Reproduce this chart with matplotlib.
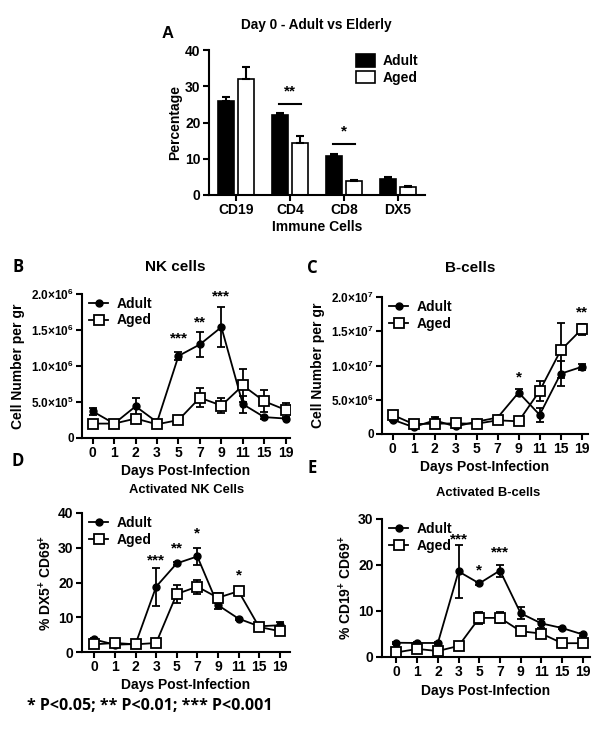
import matplotlib
matplotlib.use("Agg")
import matplotlib.pyplot as plt
from matplotlib.lines import Line2D
import numpy as np

plt.rcParams['font.family'] = ['Liberation Sans', 'DejaVu Sans']
plt.rcParams['font.weight'] = 'bold'
plt.rcParams['mathtext.fontset'] = 'custom'
plt.rcParams['mathtext.rm'] = 'Liberation Sans:bold'
plt.rcParams['mathtext.bf'] = 'Liberation Sans:bold'
plt.rcParams['mathtext.default'] = 'bf'

# ---------------- data ----------------
cells = ["CD19", "CD4", "CD8", "DX5"]
a_adult = [26.0, 22.0, 10.7, 4.5]
a_adult_err = [1.0, 0.6, 0.5, 0.5]
a_aged = [32.0, 14.3, 3.9, 2.2]
a_aged_err = [3.3, 2.0, 0.3, 0.4]

days = ["0", "1", "2", "3", "5", "7", "9", "11", "15", "19"]

nk_adult = [3.7e5, 2.0e5, 4.4e5, 2.2e5, 1.14e6, 1.30e6, 1.54e6, 4.7e5, 2.9e5, 2.7e5]
nk_adult_err = [5e4, 1e4, 1.2e5, 3e4, 6e4, 1.7e5, 2.8e5, 1.2e5, 2e4, 1e4]
nk_aged = [2.0e5, 2.0e5, 2.7e5, 1.9e5, 2.5e5, 5.6e5, 4.5e5, 7.3e5, 5.1e5, 3.9e5]
nk_aged_err = [1e4, 1e4, 5e4, 2e4, 1e4, 1.3e5, 1.0e5, 2.3e5, 1.5e5, 1.0e5]

b_adult = [2.1e6, 1.0e6, 2.0e6, 1.1e6, 1.8e6, 2.4e6, 6.05e6, 2.8e6, 8.8e6, 9.8e6]
b_adult_err = [2e5, 1e5, 5e5, 2e5, 2e5, 2e5, 5e5, 1.0e6, 1.8e6, 4e5]
b_aged = [2.8e6, 1.45e6, 1.5e6, 1.55e6, 1.5e6, 2.0e6, 1.85e6, 6.3e6, 1.22e7, 1.53e7]
b_aged_err = [2e5, 1e5, 2e5, 1e5, 1e5, 2e5, 1e5, 1.5e6, 4.0e6, 8e5]

ank_adult = [3.6, 2.1, 2.3, 18.8, 25.5, 27.5, 13.5, 9.6, 7.4, 7.7]
ank_adult_err = [0.5, 0.3, 0.3, 5.5, 0.4, 2.5, 1.0, 0.3, 0.4, 1.0]
ank_aged = [2.2, 2.6, 2.2, 2.6, 16.7, 18.8, 15.6, 17.5, 7.2, 6.0]
ank_aged_err = [1.0, 0.3, 0.3, 0.3, 2.5, 2.0, 1.5, 0.5, 0.4, 1.0]

ab_adult = [3.1, 3.05, 3.05, 18.6, 16.0, 18.8, 9.5, 7.3, 6.3, 4.9]
ab_adult_err = [0.2, 0.2, 0.2, 5.8, 0.3, 1.3, 1.3, 1.0, 0.3, 0.3]
ab_aged = [1.0, 1.75, 1.3, 2.4, 8.5, 8.5, 5.6, 5.1, 3.0, 3.0]
ab_aged_err = [0.3, 0.2, 0.2, 0.2, 1.3, 1.2, 0.6, 0.3, 0.2, 0.2]

nk_ticklabels = ['0', r'$5.0{\times}10^{5}$', r'$1.0{\times}10^{6}$',
                 r'$1.5{\times}10^{6}$', r'$2.0{\times}10^{6}$']
b_ticklabels = ['0', r'$5.0{\times}10^{6}$', r'$1.0{\times}10^{7}$',
                r'$1.5{\times}10^{7}$', r'$2.0{\times}10^{7}$']

W, H = 600, 737
fig = plt.figure(figsize=(6, 7.37), dpi=100)


def ax_at(l, r, t, b):
    return fig.add_axes([l / W, 1 - b / H, (r - l) / W, (b - t) / H])


def style(ax):
    for s in ['top', 'right']:
        ax.spines[s].set_visible(False)
    for s in ['left', 'bottom']:
        ax.spines[s].set_linewidth(1.5)
    ax.tick_params(width=1.5, length=4, labelsize=10, pad=2)
    for lab in ax.get_xticklabels() + ax.get_yticklabels():
        lab.set_fontweight('bold')


def ftext(x, y, s, **kw):
    fig.text(x / W, 1 - y / H, s, **kw)


# ---------------- Panel A ----------------
ax = ax_at(209, 425, 50, 195)
x = np.arange(len(cells))
bw = 0.28
ax.bar(x - 0.185, a_adult, bw, color='black', edgecolor='black', linewidth=1.2,
       yerr=[np.zeros(4), a_adult_err], capsize=3,
       error_kw=dict(elinewidth=1.5, capthick=1.5, ecolor='black'), label='Adult')
ax.bar(x + 0.185, a_aged, bw, color='white', edgecolor='black', linewidth=1.2,
       yerr=[np.zeros(4), a_aged_err], capsize=3,
       error_kw=dict(elinewidth=1.5, capthick=1.5, ecolor='black'), label='Aged')
ax.set_xlim(-0.5, 3.5)
ax.set_ylim(0, 40)
ax.set_yticks([0, 10, 20, 30, 40])
ax.set_xticks(x)
ax.set_xticklabels(cells)
ax.tick_params(axis='x', length=0)
style(ax)
ax.set_ylabel('Percentage', fontsize=10, fontweight='bold', labelpad=2)
ax.set_xlabel('Immune Cells', fontsize=10, fontweight='bold', labelpad=2)
ax.legend(loc='upper right', frameon=False, fontsize=10, handlelength=1.4,
          handleheight=1.0, borderaxespad=0.1, labelspacing=0.2, handletextpad=0.5,
          bbox_to_anchor=(1.0, 1.02))
ax.plot([0.8, 1.2], [25, 25], color='black', lw=1.5)
ax.text(1.0, 26.5, '**', ha='center', va='bottom', fontsize=11, fontweight='bold')
ax.plot([1.8, 2.2], [14, 14], color='black', lw=1.5)
ax.text(2.0, 15.5, '*', ha='center', va='bottom', fontsize=11, fontweight='bold')
ftext(316, 25, 'Day 0 - Adult vs Elderly', fontsize=9.8, fontweight='bold',
      ha='center', va='center')
ftext(168, 33, 'A', fontsize=12, fontweight='bold', ha='center', va='center')

leg_handles = [
    Line2D([], [], color='black', marker='o', ms=5, lw=1.3),
    Line2D([], [], color='black', marker='s', ms=6.5, mfc='white', mec='black',
           mew=1.3, lw=1.3),
]


def line_panel(ax, ad, ad_e, ag, ag_e, xlim):
    xi = np.arange(len(days))
    ax.errorbar(xi, ad, yerr=ad_e, color='black', marker='o', ms=5, lw=1.3,
                capsize=3, elinewidth=1.3, capthick=1.3, zorder=3)
    ax.errorbar(xi, ag, yerr=ag_e, color='black', marker='s', ms=6.5, mfc='white',
                mec='black', mew=1.3, lw=1.3, capsize=3, elinewidth=1.3,
                capthick=1.3, zorder=3)
    ax.set_xlim(*xlim)
    ax.set_xticks(xi)
    ax.set_xticklabels(days)
    style(ax)
    ax.set_xlabel('Days Post-Infection', fontsize=10, fontweight='bold', labelpad=3)
    ax.legend(leg_handles, ['Adult', 'Aged'], loc='upper left', frameon=False,
              fontsize=10, handlelength=1.4, borderaxespad=0.1, labelspacing=0.2,
              handletextpad=0.6, bbox_to_anchor=(0.0, 1.03))
    return ax


def stars(ax, xs, ys, labels):
    for xx, yy, s in zip(xs, ys, labels):
        ax.text(xx, yy, s, ha='center', va='center', fontsize=11, fontweight='bold')


# ---------------- Panel B ----------------
ax = ax_at(82, 290, 294, 438)
line_panel(ax, nk_adult, nk_adult_err, nk_aged, nk_aged_err, (-0.5, 9.2))
ax.set_ylim(0, 2.0e6)
ax.set_yticks([0, 5e5, 1e6, 1.5e6, 2e6])
ax.set_yticklabels(nk_ticklabels, fontsize=8.5)
ax.set_ylabel('Cell Number per gr', fontsize=10, fontweight='bold', labelpad=4)
stars(ax, [4, 5, 6], [1.38e6, 1.61e6, 1.96e6], ['***', '**', '***'])
ftext(175, 267, 'NK cells', fontsize=11, fontweight='bold', ha='center', va='center')
ftext(18, 267, 'B', fontsize=12, fontweight='bold', ha='center', va='center', family='Open Sans')
ftext(18, 461, 'D', fontsize=12, fontweight='bold', ha='center', va='center', family='Open Sans')

# ---------------- Panel C ----------------
ax = ax_at(382, 588, 297, 434)
line_panel(ax, b_adult, b_adult_err, b_aged, b_aged_err, (-0.5, 9.3))
ax.set_ylim(0, 2.0e7)
ax.set_yticks([0, 5e6, 1e7, 1.5e7, 2e7])
ax.set_yticklabels(b_ticklabels, fontsize=8.5)
ax.set_ylabel('Cell Number per gr', fontsize=10, fontweight='bold', labelpad=4)
stars(ax, [6, 9], [8.2e6, 1.78e7], ['*', '**'])
ftext(470, 268, 'B-cells', fontsize=11, fontweight='bold', ha='center', va='center')
ftext(312, 268, 'C', fontsize=12, fontweight='bold', ha='center', va='center', family='Open Sans')
ftext(312, 468, 'E', fontsize=12, fontweight='bold', ha='center', va='center', family='Open Sans')

# ---------------- Panel D ----------------
ax = ax_at(82, 290, 513, 652)
line_panel(ax, ank_adult, ank_adult_err, ank_aged, ank_aged_err, (-0.6, 9.5))
ax.set_ylim(0, 40)
ax.set_yticks([0, 10, 20, 30, 40])
ax.set_ylabel('% DX5$^{+}$ CD69$^{+}$', fontsize=10, fontweight='bold', labelpad=3)
stars(ax, [3, 4, 5, 7], [26.2, 29.9, 34.2, 21.9], ['***', '**', '*', '*'])
ftext(187, 490, 'Activated NK Cells', fontsize=9.4, fontweight='bold', ha='center', va='center')

# ---------------- Panel E ----------------
ax = ax_at(382, 590, 519, 657)
line_panel(ax, ab_adult, ab_adult_err, ab_aged, ab_aged_err, (-0.7, 9.35))
ax.set_ylim(0, 30)
ax.set_yticks([0, 10, 20, 30])
ax.set_ylabel('% CD19$^{+}$ CD69$^{+}$', fontsize=10, fontweight='bold', labelpad=3)
stars(ax, [3, 4, 5], [25.5, 18.9, 22.7], ['***', '*', '***'])
ftext(488, 493, 'Activated B-cells', fontsize=9.4, fontweight='bold', ha='center', va='center')

ftext(27, 706, '* P<0.05; ** P<0.01; *** P<0.001', fontsize=11.5, fontweight='bold',
      ha='left', va='center', family='Open Sans')

fig.savefig('out.png', dpi=100)
